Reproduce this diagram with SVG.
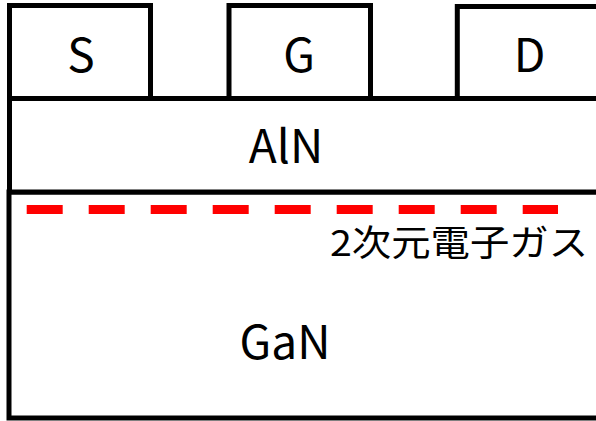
<svg xmlns="http://www.w3.org/2000/svg" width="596" height="421" viewBox="0 0 596 421">
<style>
.box{fill:#fff;stroke:#000;stroke-width:5}
.lbl{font-family:"Noto Sans CJK JP","Noto Sans",sans-serif;font-size:46px;fill:#000;text-anchor:middle}
.jp{font-family:"Noto Sans CJK JP",sans-serif;font-size:36px;fill:#000}
</style>
<rect width="596" height="421" fill="#fff"/>
<g id="GaN">
<rect class="box" x="9" y="192" width="590" height="226"/>
<text class="lbl" x="285" y="359">GaN</text>
</g>
<g id="AlN">
<rect class="box" x="9.5" y="98.5" width="589.5" height="93.5"/>
<text class="lbl" x="286" y="163">AlN</text>
</g>
<g id="S">
<rect class="box" x="9.5" y="5.5" width="141" height="93"/>
<text class="lbl" x="81" y="72">S</text>
</g>
<g id="G">
<rect class="box" x="229" y="5.5" width="141.5" height="93"/>
<text class="lbl" x="299" y="72">G</text>
</g>
<g id="D">
<rect class="box" x="457.3" y="6.5" width="141.7" height="92"/>
<text class="lbl" x="529.5" y="72">D</text>
</g>
<g id="2DEG">
<line x1="26.7" y1="209.5" x2="558" y2="209.5" stroke="#ff0000" stroke-width="9" stroke-dasharray="36 26"/>
<text class="jp" x="330" y="256" textLength="258" lengthAdjust="spacingAndGlyphs">2次元電子ガス</text>
</g>
</svg>
